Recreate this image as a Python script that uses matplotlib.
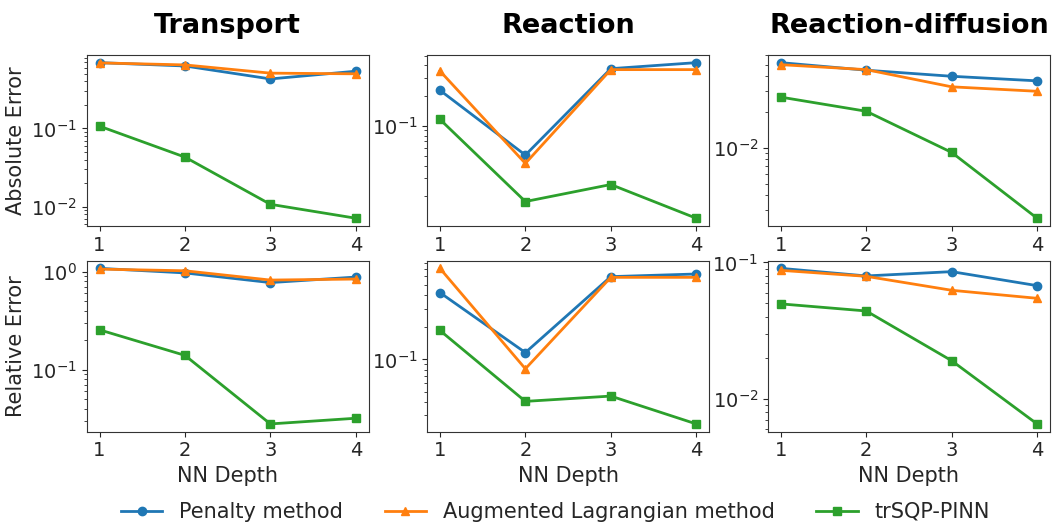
import matplotlib
matplotlib.use("Agg")
import matplotlib.pyplot as plt

depth = [1, 2, 3, 4]
titles = ["Transport", "Reaction", "Reaction-diffusion"]
row_labels = ["Absolute Error", "Relative Error"]
series_names = ["Penalty method", "Augmented Lagrangian method", "trSQP-PINN"]

# Absolute error
abs_transport_penalty = [0.695, 0.63, 0.43, 0.54]
abs_transport_alm = [0.69, 0.65, 0.51, 0.50]
abs_transport_trsqp = [0.107, 0.043, 0.0107, 0.0071]

abs_reaction_penalty = [0.226, 0.0511, 0.371, 0.426]
abs_reaction_alm = [0.352, 0.0422, 0.363, 0.363]
abs_reaction_trsqp = [0.116, 0.0176, 0.026, 0.012]

abs_rd_penalty = [0.0521, 0.045, 0.040, 0.0366]
abs_rd_alm = [0.0501, 0.0455, 0.0326, 0.0299]
abs_rd_trsqp = [0.0267, 0.0203, 0.00914, 0.00255]

# Relative error
rel_transport_penalty = [1.08, 0.97, 0.773, 0.88]
rel_transport_alm = [1.06, 1.02, 0.82, 0.84]
rel_transport_trsqp = [0.255, 0.14, 0.028, 0.032]

rel_reaction_penalty = [0.423, 0.116, 0.597, 0.632]
rel_reaction_alm = [0.714, 0.0818, 0.588, 0.588]
rel_reaction_trsqp = [0.187, 0.0405, 0.0454, 0.0249]

rel_rd_penalty = [0.0904, 0.0795, 0.0855, 0.0675]
rel_rd_alm = [0.0874, 0.079, 0.0624, 0.0545]
rel_rd_trsqp = [0.0496, 0.044, 0.019, 0.00653]

data = [
    [(abs_transport_penalty, abs_transport_alm, abs_transport_trsqp),
     (abs_reaction_penalty, abs_reaction_alm, abs_reaction_trsqp),
     (abs_rd_penalty, abs_rd_alm, abs_rd_trsqp)],
    [(rel_transport_penalty, rel_transport_alm, rel_transport_trsqp),
     (rel_reaction_penalty, rel_reaction_alm, rel_reaction_trsqp),
     (rel_rd_penalty, rel_rd_alm, rel_rd_trsqp)],
]

colors = ["#1f77b4", "#ff7f0e", "#2ca02c"]
markers = ["o", "^", "s"]
text_color = "#262626"

plt.rcParams['font.family'] = ['DejaVu Sans']
plt.rcParams['text.color'] = text_color
plt.rcParams['axes.labelcolor'] = text_color
plt.rcParams['xtick.color'] = text_color
plt.rcParams['ytick.color'] = text_color
plt.rcParams['axes.edgecolor'] = "#333333"

fig = plt.figure(figsize=(10.52, 5.25), dpi=100)

lefts = [0.0824, 0.406, 0.730]
width = 0.268
bottoms = [0.5695, 0.1777]
height = 0.326

handles = []
for r in range(2):
    for c in range(3):
        ax = fig.add_axes([lefts[c], bottoms[r], width, height])
        for k in range(3):
            h, = ax.plot(depth, data[r][c][k], color=colors[k], marker=markers[k],
                         markersize=6, linewidth=2, label=series_names[k])
            if r == 0 and c == 0:
                handles.append(h)
        ax.set_yscale('log')
        ax.set_xticks(depth)
        ax.tick_params(labelsize=14)
        if r == 0:
            ax.set_title(titles[c], fontsize=19.5, fontweight='bold', pad=16,
                         color='black')
        else:
            ax.set_xlabel("NN Depth", fontsize=15)
        if c == 0:
            ax.set_ylabel(row_labels[r], fontsize=15)

fig.legend(handles=handles, labels=series_names, loc='center', ncol=3,
           bbox_to_anchor=(0.528, 0.025), frameon=False, fontsize=15,
           columnspacing=2.0)

fig.savefig("out.png", dpi=100)
